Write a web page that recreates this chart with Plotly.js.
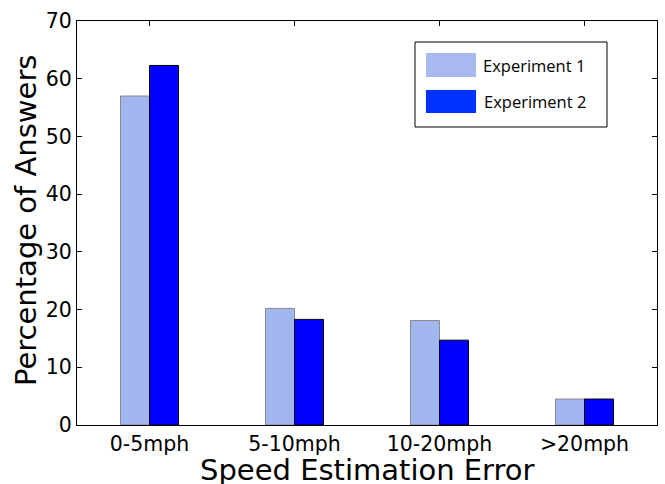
<!DOCTYPE html>
<html>
<head>
<meta charset="utf-8">
<script src="https://cdn.plot.ly/plotly-3.0.1.min.js"></script>
<style>html,body{margin:0;padding:0;background:#fff;}#chart{width:665px;height:484px;}</style>
</head>
<body>
<div id="chart"></div>
<script>
var categories = ["0-5mph", "5-10mph", "10-20mph", ">20mph"];
var seriesNames = ["Experiment 1", "Experiment 2"];
var exp1 = [57.0, 20.2, 18.1, 4.5];
var exp2 = [62.3, 18.3, 14.7, 4.5];
var yTicks = [0, 10, 20, 30, 40, 50, 60, 70];
var xTitle = "Speed Estimation Error";
var yTitle = "Percentage of Answers";

var fillColors = ["#a1b5ee", "#0000ff"];
var lineColors = ["#8a8a8a", "#000000"];
var legendColors = ["#a8b9f0", "#0033ff"];

var W = 665, H = 484;
var mL = 77, mR = 8, mT = 21, mB = 59;
var pw = W - mL - mR, ph = H - mT - mB;
function px(x){ return (x - mL) / pw; }
function py(y){ return (H - mB - y) / ph; }

var traces = [exp1, exp2].map(function(vals, i){
  return {
    type: "bar",
    x: categories,
    y: vals,
    name: seriesNames[i],
    marker: {color: fillColors[i], line: {color: lineColors[i], width: 1}},
    hoverinfo: "x+y"
  };
});

var shapes = [
  {type: "rect", xref: "paper", yref: "paper", x0: px(415), x1: px(607), y0: py(127), y1: py(42),
   line: {color: "#000", width: 1}, fillcolor: "#fff", layer: "above"},
  {type: "rect", xref: "paper", yref: "paper", x0: px(426), x1: px(476), y0: py(77), y1: py(53),
   line: {width: 0}, fillcolor: legendColors[0], layer: "above"},
  {type: "rect", xref: "paper", yref: "paper", x0: px(426), x1: px(476), y0: py(113), y1: py(90),
   line: {width: 0}, fillcolor: legendColors[1], layer: "above"}
];

var legFont = {family: "'Open Sans', Lato, sans-serif", size: 16.5, color: "#000"};
var titleFont = {family: "DejaVu Sans", size: 29, color: "#000"};
var annotations = [
  {xref: "paper", yref: "paper", x: px(481), y: py(65), xanchor: "left", yanchor: "middle",
   text: seriesNames[0], showarrow: false, font: legFont},
  {xref: "paper", yref: "paper", x: px(482), y: py(102), xanchor: "left", yanchor: "middle",
   text: seriesNames[1], showarrow: false, font: legFont},
  {xref: "paper", yref: "paper", x: 0.5, y: py(470), xanchor: "center", yanchor: "middle",
   text: xTitle, showarrow: false, font: titleFont},
  {xref: "paper", yref: "paper", x: px(26), y: py(221), xanchor: "center", yanchor: "middle",
   text: yTitle, textangle: -90, showarrow: false, font: titleFont}
];

var layout = {
  width: W, height: H,
  margin: {l: mL, r: mR, t: mT, b: mB, pad: 0},
  paper_bgcolor: "#fff", plot_bgcolor: "#fff",
  barmode: "group", bargap: 0.6, bargroupgap: 0,
  showlegend: false,
  font: {family: "DejaVu Sans, sans-serif", color: "#000"},
  xaxis: {
    type: "category", range: [-0.5, 3.5], fixedrange: true,
    showline: true, linecolor: "#000", linewidth: 1, mirror: "ticks",
    ticks: "inside", ticklen: 5, tickcolor: "#000", tickwidth: 1,
    showgrid: false, zeroline: false,
    tickfont: {family: "DejaVu Sans", size: 20.5, color: "#000"},
    ticklabelstandoff: 0,
    automargin: false
  },
  yaxis: {
    range: [0, 70], tickvals: yTicks, fixedrange: true,
    showline: true, linecolor: "#000", linewidth: 1, mirror: "ticks",
    ticks: "inside", ticklen: 5, tickcolor: "#000", tickwidth: 1,
    showgrid: false, zeroline: false,
    tickfont: {family: "DejaVu Sans", size: 20.5, color: "#000"},
    ticklabelstandoff: 0,
    automargin: false
  },
  shapes: shapes,
  annotations: annotations
};

Plotly.newPlot("chart", traces, layout, {displayModeBar: false, staticPlot: true});
</script>
</body>
</html>
